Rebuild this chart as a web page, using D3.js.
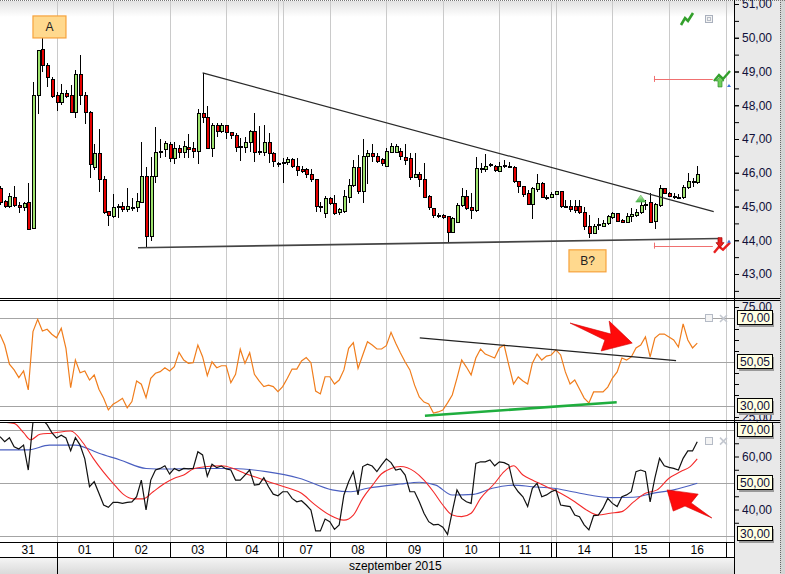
<!DOCTYPE html>
<html>
<head>
<meta charset="utf-8">
<script src="https://cdn.jsdelivr.net/npm/d3@7"></script>
<style>
  body { margin: 0; background: #fff; }
  svg { display: block; font-family: 'Liberation Sans', Arial, sans-serif; }
</style>
</head>
<body>
<div id="chart"></div>
<script>
// ---- data ----
const days = ['31', '01', '02', '03', '04', '07', '08', '09', '10', '11', '14', '15', '16'];
const dayStart = [0, 12, 24, 36, 48, 60, 70, 82, 94, 106, 118, 130, 142];
const dayEnd = [12, 24, 36, 48, 59, 70, 82, 94, 106, 117, 130, 142, 154];
const monthLabel = 'szeptember 2015';

const open = [45.52,45.16,44.99,45.28,45.04,44.96,45.13,44.36,48.30,49.64,
  49.19,48.75,48.30,48.07,48.36,48.30,47.80,48.90,48.30,47.80,
  46.17,46.58,45.81,44.84,44.69,44.96,44.99,44.90,44.96,44.96,
  45.13,45.90,44.10,45.90,46.61,46.70,46.85,46.41,46.73,46.61,
  46.76,46.73,46.64,47.77,47.65,46.73,47.41,47.21,47.41,47.18,
  47.09,46.76,46.76,46.91,47.21,46.61,46.61,46.91,46.56,46.26,
  46.29,46.29,46.38,46.20,46.11,46.11,45.96,45.79,44.99,44.78,
  45.25,45.10,44.81,44.84,45.28,45.61,46.17,45.43,46.47,46.56,
  46.47,46.38,46.20,46.61,46.61,46.64,46.44,46.41,45.87,45.96,
  45.81,45.31,44.93,44.72,44.72,44.69,44.24,44.54,45.02,45.31,
  44.96,44.87,46.11,46.11,46.23,46.20,46.05,46.20,46.20,46.17,
  45.73,45.58,45.40,45.07,45.49,45.67,45.28,45.28,45.37,45.43,
  44.99,44.99,44.99,44.99,44.81,44.42,44.21,44.45,44.42,44.51,
  44.66,44.78,44.60,44.54,44.69,44.72,44.81,45.04,45.13,44.57,
  45.04,45.52,45.40,45.31,45.28,45.28,45.55,45.73,45.70];
const high = [45.61,45.19,45.40,45.61,45.13,45.13,45.70,48.69,49.64,49.99,
  49.25,48.84,48.39,48.63,48.45,48.60,49.04,49.49,48.39,47.83,
  46.85,47.30,45.90,44.87,45.37,45.07,45.13,45.55,45.25,45.40,
  46.91,46.17,46.47,47.36,47.00,46.94,46.91,46.91,46.82,46.94,
  47.15,46.91,47.89,48.96,47.98,47.47,47.47,47.47,47.42,47.20,
  47.18,47.03,47.06,47.27,47.77,47.39,47.41,47.18,46.61,46.32,
  46.44,46.47,46.44,46.44,46.20,46.14,46.11,45.81,45.13,45.31,
  45.28,45.34,44.96,45.49,45.81,46.38,46.53,47.00,46.67,46.85,
  46.58,46.44,46.73,46.88,46.85,46.73,46.85,46.58,46.58,46.02,
  46.29,45.34,44.96,44.81,44.78,44.72,44.69,45.10,45.55,45.49,
  45.40,46.47,46.29,46.56,46.29,46.23,46.32,46.38,46.32,46.19,
  45.74,45.61,45.49,45.58,45.96,45.73,45.34,45.43,45.46,45.44,
  45.19,45.19,45.19,45.19,44.99,44.75,44.48,44.66,44.60,44.75,
  44.84,44.81,44.63,44.81,44.96,44.93,45.19,45.19,45.40,45.10,
  45.64,45.55,45.43,45.40,45.37,45.64,45.99,45.84,46.20];
const low = [45.04,44.96,44.96,44.99,44.81,44.87,44.30,44.33,47.74,48.98,
  48.54,48.21,47.83,48.01,48.21,47.77,47.62,48.01,47.44,45.84,
  46.08,45.43,44.78,44.42,44.66,44.66,44.84,44.84,44.87,44.84,
  45.10,43.80,43.98,45.70,46.44,46.47,46.32,46.26,46.44,46.44,
  46.44,46.44,46.26,47.47,46.70,46.47,47.06,47.18,47.00,47.00,
  46.61,46.35,46.58,46.61,46.32,46.53,46.50,46.29,46.17,46.17,
  45.70,46.23,46.14,45.90,45.99,45.84,45.73,44.84,44.84,44.66,
  45.04,44.75,44.75,44.81,45.10,45.58,45.37,45.10,45.67,46.32,
  46.29,46.20,46.17,46.58,46.58,46.38,46.23,45.79,45.84,45.58,
  45.25,44.90,44.66,44.66,44.63,43.95,44.21,44.51,44.99,44.90,
  44.63,44.84,45.99,46.02,46.17,46.02,46.02,46.14,46.14,45.70,
  45.40,45.28,45.04,44.63,45.43,45.25,45.19,45.25,45.34,44.96,
  44.96,44.84,44.81,44.78,44.30,44.07,44.18,44.30,44.39,44.45,
  44.63,44.54,44.51,44.51,44.54,44.69,44.78,44.90,44.51,44.33,
  44.99,45.37,45.28,45.22,45.25,45.22,45.52,45.58,45.67];
const close = [45.13,44.99,45.31,45.02,44.96,45.10,44.33,48.30,49.61,49.19,
  48.81,48.27,48.07,48.36,48.27,47.80,48.90,48.30,47.80,46.23,
  46.58,45.81,44.81,44.72,44.96,44.99,44.90,44.99,44.98,45.16,
  45.90,44.10,45.90,46.61,46.62,46.88,46.41,46.73,46.61,46.79,
  46.70,46.64,47.77,47.65,46.73,47.41,47.21,47.41,47.18,47.09,
  46.76,46.77,46.91,47.21,46.61,46.62,46.91,46.56,46.32,46.27,
  46.30,46.38,46.20,46.08,46.05,45.96,45.79,44.99,45.00,45.25,
  45.10,44.78,44.90,45.31,45.61,46.17,45.43,46.47,46.56,46.47,
  46.32,46.26,46.64,46.79,46.79,46.47,46.35,45.87,45.96,45.81,
  45.28,44.96,44.72,44.71,44.66,44.24,44.63,45.04,45.31,44.93,
  44.87,46.14,46.12,46.20,46.24,46.08,46.20,46.21,46.19,45.73,
  45.58,45.37,45.07,45.52,45.67,45.28,45.25,45.37,45.43,44.99,
  45.00,44.90,44.87,44.81,44.42,44.21,44.42,44.46,44.51,44.69,
  44.78,44.57,44.54,44.69,44.75,44.81,45.04,45.05,44.54,45.07,
  45.52,45.40,45.31,45.30,45.27,45.55,45.73,45.74,45.96];

const rsi = [62.6,57.7,49.0,46.4,42.9,45.9,37.3,63.8,69.4,64.1,
  64.9,62.6,61.0,65.3,56.2,38.3,50.9,45.1,45.9,41.8,
  44.1,37.6,33.5,28.2,30.8,32.0,33.5,29.2,32.0,41.4,
  39.9,33.8,42.6,44.9,45.6,47.4,45.9,47.9,54.4,50.9,
  49.4,49.7,57.7,52.4,43.8,50.1,47.4,48.3,48.3,40.6,
  44.4,55.8,49.4,54.2,44.4,41.4,38.8,39.5,38.8,36.5,
  38.8,42.6,46.8,46.8,50.5,52.0,49.7,36.8,35.5,43.3,
  43.3,40.0,41.8,46.4,56.2,58.8,47.1,53.2,59.2,57.7,
  55.9,55.9,57.4,63.5,58.5,54.1,50.0,46.4,39.5,34.1,
  31.8,30.9,26.8,27.3,28.2,31.4,35.0,42.7,50.9,47.7,
  44.1,51.8,55.9,53.6,52.7,51.8,56.4,57.7,48.6,40.0,
  43.2,41.4,40.0,49.5,53.6,50.9,52.7,53.2,55.5,53.2,
  45.5,40.0,41.8,37.7,33.6,31.4,36.4,36.4,36.4,38.6,
  42.7,45.5,51.8,50.9,52.3,56.4,57.7,61.4,52.3,60.9,
  62.7,62.7,61.4,60.0,56.8,67.3,60.0,56.4,58.6];

const stochK = [67.5,65.6,67.1,63.7,62.8,64.3,54.9,73.0,74.0,74.0,
  72.0,69.0,67.0,68.0,67.0,62.2,67.1,64.3,59.1,48.6,
  50.5,46.1,41.7,40.8,42.7,42.7,42.3,42.7,42.9,44.8,
  51.1,39.8,51.1,54.9,55.5,56.5,53.4,55.5,54.6,55.5,
  55.3,55.5,61.8,60.6,52.6,57.1,55.8,56.4,55.3,54.9,
  51.1,51.1,53.0,54.9,49.2,49.5,52.0,48.6,45.8,45.2,
  46.7,46.7,44.2,42.9,43.3,41.7,39.8,31.9,31.9,36.4,
  35.4,32.5,34.2,45.5,50.5,54.3,45.5,56.2,57.1,56.4,
  54.3,56.8,59.1,57.7,54.9,55.3,53.0,46.7,46.7,42.9,
  38.6,35.4,34.2,34.4,33.3,30.6,39.2,47.4,44.2,42.9,
  42.3,57.4,58.0,58.0,58.7,56.5,58.0,57.7,56.8,49.2,
  46.7,44.8,41.1,48.0,49.9,44.8,45.5,46.7,47.4,41.7,
  41.4,41.1,37.9,37.3,34.2,32.3,37.7,37.9,40.5,44.2,
  42.3,41.1,44.8,45.5,46.7,54.3,54.9,54.3,42.9,51.8,
  59.3,56.5,55.9,55.5,54.9,59.3,62.1,62.1,65.6];

// smooth lines, read at the points where they bend: [candle index, value]
const stochSignal = [[0,73],[3,72.5],[5,69],[6.5,66.3],[8.5,68.4],[11,68.8],[15,69.6],[17.7,65.0],
  [19.8,59.3],[21.9,54.3],[24,49.9],[26.2,45.7],[28.3,44.0],[30.4,44.0],[32.5,46.7],[35,49.9],
  [37,51.8],[39,53.0],[41,55.3],[44,56.2],[47,56.5],[49.5,55.5],[52,53.6],[55,51.8],[58,49.9],
  [61,48.2],[64,46.1],[66.5,42.3],[70,37.9],[73,36.0],[75,37.9],[77,44.2],[79,49.0],[81,53.5],
  [83,55.5],[85,56.2],[88,54.3],[90,51.1],[92,46.7],[94,41.7],[96,37.9],[98,37.3],[100,38.6],
  [102,44.2],[105,49.9],[107,54.3],[109,56.5],[111,53.0],[113,51.1],[116,48.6],[119,46.1],
  [122,42.9],[124.5,39.8],[127,37.9],[129.5,38.6],[132,39.2],[134.5,42.9],[137,46.1],
  [139.5,47.4],[142,51.8],[144.5,54.3],[146.5,56.2],[148,59.1]];
const stochSlow = [[0,62.5],[6,62.5],[10.5,64.3],[16,64.3],[21,61.2],[25.5,58.7],[31,55.5],
  [35.5,55.3],[41,55.5],[49.5,55.5],[56.5,54.3],[63.5,51.8],[70.5,47.4],[74.5,46.7],[78,48.0],
  [85,49.6],[89,50.3],[92.5,49.2],[96,45.5],[100.5,45.7],[104.5,48.0],[109,49.2],[113,48.6],
  [117.5,48.0],[121.5,46.7],[126,45.2],[130,44.5],[134.5,44.6],[138.5,46.1],[143,47.4],[148,49.9]];

// drawn trend lines: [[index, value], [index, value]]
const priceLines = [[[43, 48.96], [151.5, 44.85]], [[29.3, 43.78], [152.8, 44.05]]];
const rsiLines = [[[89.1, 61.0], [143.5, 50.6]]];
const rsiSupport = [[[90.2, 25.6], [130.9, 31.7]]];
const alertLevels = [48.78, 43.84];
const notes = [{ text: 'A', i: 10.5, v: 50.32 }, { text: 'B?', i: 124.7, v: 43.39 }];

const priceTicks = d3.range(43, 52);
const priceMinor = d3.range(42.5, 51, 0.5);
const rsiBoxes = [70, 50.05, 30];
const rsiPlain = [75, 25];
const rsiMinor = [65, 60, 55, 45, 40, 35];
const stoBoxes = [70, 50, 30];
const stoPlain = [60, 40];
const stoMinor = [65, 55, 45, 35];

// ---- layout ----
const width = 785, height = 574, plotW = 734;

const x = d3.scaleLinear().domain([0, 155.8]).range([0, plotW]);
const yMain = d3.scaleLinear().domain([43, 51]).range([274, 4]);
const yRsi = d3.scaleLinear().domain([30, 70]).range([406, 318]);
const ySto = d3.scaleLinear().domain([30, 70]).range([536, 430]);
const fmt = v => d3.format('.2f')(v).replace('.', ',');

const svg = d3.select('#chart').append('svg')
    .attr('width', width)
    .attr('height', height);

const defs = svg.append('defs');
[['clip-main', 1, 297], ['clip-rsi', 301, 119], ['clip-sto', 423, 119]].forEach(c => {
  defs.append('clipPath').attr('id', c[0])
    .append('rect').attr('x', 0).attr('y', c[1]).attr('width', plotW).attr('height', c[2]);
});
const topGrad = defs.append('linearGradient').attr('id', 'topfade').attr('x1', 0).attr('x2', 0).attr('y1', 0).attr('y2', 1);
topGrad.append('stop').attr('offset', 0).attr('stop-color', '#e2e2e2');
topGrad.append('stop').attr('offset', 1).attr('stop-color', '#ffffff');
const monthGrad = defs.append('linearGradient').attr('id', 'monthfade').attr('x1', 0).attr('x2', 0).attr('y1', 0).attr('y2', 1);
monthGrad.append('stop').attr('offset', 0).attr('stop-color', '#f6f6f6');
monthGrad.append('stop').attr('offset', 1).attr('stop-color', '#dadada');
const triGrad = defs.append('linearGradient').attr('id', 'trifill').attr('x1', 0).attr('x2', 0).attr('y1', 0).attr('y2', 1);
triGrad.append('stop').attr('offset', 0).attr('stop-color', '#c8f0b8');
triGrad.append('stop').attr('offset', 1).attr('stop-color', '#3fae3f');

svg.append('rect').attr('width', width).attr('height', height).attr('fill', '#fff');
svg.append('rect').attr('x', 0).attr('y', 1).attr('width', plotW).attr('height', 16).attr('fill', 'url(#topfade)');

// right axis panel
svg.append('rect').attr('x', plotW).attr('y', 0).attr('width', width - plotW).attr('height', height).attr('fill', '#e9e9e9');
svg.append('rect').attr('x', 780).attr('y', 0).attr('width', 5).attr('height', height).attr('fill', '#d4d4d4');
svg.append('line').attr('x1', 780.5).attr('x2', 780.5).attr('y1', 0).attr('y2', height)
    .attr('stroke', '#666').attr('stroke-dasharray', '1,1');

// vertical day grid
const gridIdx = Array.from(new Set(dayStart.concat(dayEnd))).filter(d => d > 0);
svg.append('g').attr('shape-rendering', 'crispEdges')
  .selectAll('line')
    .data(gridIdx)
  .enter().append('line')
    .attr('x1', d => Math.round(x(d)) + 0.5)
    .attr('x2', d => Math.round(x(d)) + 0.5)
    .attr('y1', 1).attr('y2', 542)
    .attr('stroke', '#cacaca');

// horizontal grid of the two lower panels
const hGrid = svg.append('g').attr('shape-rendering', 'crispEdges');
hGrid.selectAll('.gr').data(rsiBoxes).enter().append('line')
    .attr('x1', 0).attr('x2', plotW)
    .attr('y1', d => Math.round(yRsi(d)) + 0.5).attr('y2', d => Math.round(yRsi(d)) + 0.5)
    .attr('stroke', '#a4a4a4');
hGrid.selectAll('.gs').data(stoBoxes).enter().append('line')
    .attr('x1', 0).attr('x2', plotW)
    .attr('y1', d => Math.round(ySto(d)) + 0.5).attr('y2', d => Math.round(ySto(d)) + 0.5)
    .attr('stroke', '#a4a4a4');

// ---- price panel ----
const candles = open.map((o, i) => ({ i, o, h: high[i], l: low[i], c: close[i] }));
const main = svg.append('g').attr('clip-path', 'url(#clip-main)');

main.append('g').attr('shape-rendering', 'crispEdges')
  .selectAll('line')
    .data(candles)
  .enter().append('line')
    .attr('x1', d => Math.round(x(d.i)) + 0.5)
    .attr('x2', d => Math.round(x(d.i)) + 0.5)
    .attr('y1', d => yMain(d.h))
    .attr('y2', d => yMain(d.l))
    .attr('stroke', '#000');

main.append('g').attr('shape-rendering', 'crispEdges')
  .selectAll('rect')
    .data(candles)
  .enter().append('rect')
    .attr('x', d => Math.round(x(d.i)) - 1)
    .attr('width', 3)
    .attr('y', d => yMain(Math.max(d.o, d.c)))
    .attr('height', d => Math.max(1, Math.abs(yMain(d.o) - yMain(d.c))))
    .attr('fill', d => d.c >= d.o ? '#9ee36e' : '#e60000')
    .attr('stroke', '#000')
    .attr('stroke-width', 1);

main.selectAll('.trend')
    .data(priceLines)
  .enter().append('line')
    .attr('x1', d => x(d[0][0])).attr('y1', d => yMain(d[0][1]))
    .attr('x2', d => x(d[1][0])).attr('y2', d => yMain(d[1][1]))
    .attr('stroke', (d, k) => k === 0 ? '#2a2a2a' : '#444')
    .attr('stroke-width', (d, k) => k === 0 ? 1.2 : 1.6);

// alert levels on the right
const alerts = main.selectAll('.alert').data(alertLevels).enter().append('g');
alerts.append('line')
    .attr('x1', x(138.8)).attr('x2', x(151.3))
    .attr('y1', d => Math.round(yMain(d)) + 0.5).attr('y2', d => Math.round(yMain(d)) + 0.5)
    .attr('stroke', '#f07070');
alerts.append('line')
    .attr('x1', Math.round(x(138.8)) + 0.5).attr('x2', Math.round(x(138.8)) + 0.5)
    .attr('y1', d => yMain(d) - 3).attr('y2', d => yMain(d) + 3)
    .attr('stroke', '#f07070');

// breakout marker over candle 136
main.append('path')
    .attr('d', () => {
      const cx = x(136), cy = yMain(high[136]) - 1;
      return `M${cx - 5},${cy + 3} L${cx},${cy - 4} L${cx + 5},${cy + 3} Z`;
    })
    .attr('fill', 'url(#trifill)')
    .attr('stroke', '#5bb85b')
    .attr('stroke-width', 0.6);

// labelled boxes A and B?
const noteG = main.selectAll('.note').data(notes).enter().append('g');
noteG.append('rect')
    .attr('x', d => x(d.i) - 16.5 - (d.text.length - 1) * 2)
    .attr('y', d => yMain(d.v) - 11)
    .attr('width', d => 33 + (d.text.length - 1) * 4)
    .attr('height', 22)
    .attr('fill', '#ffd98e')
    .attr('stroke', '#f6a23c')
    .attr('stroke-width', 1.2);
noteG.append('text')
    .attr('x', d => x(d.i))
    .attr('y', d => yMain(d.v))
    .attr('dy', '0.36em')
    .attr('text-anchor', 'middle')
    .style('font-size', '12px')
    .style('fill', '#222')
    .text(d => d.text);

// icons near the price axis
const ico = svg.append('g');
ico.append('polyline')
    .attr('points', '681,25 685,18 688,21 693,13')
    .attr('fill', 'none').attr('stroke', '#33a02c').attr('stroke-width', 2.6);
ico.append('rect').attr('x', 705.5).attr('y', 15.5).attr('width', 7).attr('height', 7)
    .attr('fill', '#f2f2f2').attr('stroke', '#a9b0bd');
ico.append('rect').attr('x', 707.5).attr('y', 17.5).attr('width', 3).attr('height', 3)
    .attr('fill', 'none').attr('stroke', '#b8bec8');
const upY = yMain(alertLevels[0]), dnY = yMain(alertLevels[1]);
ico.append('polyline')
    .attr('points', `714,${upY + 2} 719,${upY - 4} 723,${upY} 730,${upY - 8}`)
    .attr('fill', 'none').attr('stroke', '#33a02c').attr('stroke-width', 2.4);
ico.append('path')
    .attr('d', `M716,${upY + 2} L720,${upY - 2} L724,${upY + 2} L722,${upY + 2} L722,${upY + 8} L718,${upY + 8} L718,${upY + 2} Z`)
    .attr('fill', '#6fcf5a').attr('stroke', '#2e8b2e').attr('stroke-width', 0.7);
ico.append('path').attr('d', `M727,${upY + 8} L729,${upY + 5} L731,${upY + 8} Z`).attr('fill', '#3a6fd8');
ico.append('polyline')
    .attr('points', `714,${dnY + 7} 719,${dnY + 1} 723,${dnY + 4} 730,${dnY - 3}`)
    .attr('fill', 'none').attr('stroke', '#e82020').attr('stroke-width', 2.4);
ico.append('path')
    .attr('d', `M718,${dnY - 8} L722,${dnY - 8} L722,${dnY - 3} L724,${dnY - 3} L720,${dnY + 2} L716,${dnY - 3} L718,${dnY - 3} Z`)
    .attr('fill', '#e82020').attr('stroke', '#a00000').attr('stroke-width', 0.7);
ico.append('path').attr('d', `M727,${dnY - 3} L729,${dnY - 6} L731,${dnY - 3} Z`).attr('fill', '#3a6fd8');

// ---- RSI panel ----
const rsiG = svg.append('g').attr('clip-path', 'url(#clip-rsi)');
rsiG.append('path')
    .datum(rsi)
    .attr('fill', 'none')
    .attr('stroke', '#f07d1c')
    .attr('stroke-width', 1.2)
    .attr('d', d3.line().x((d, i) => x(i)).y(d => yRsi(d)));
rsiG.selectAll('.rl').data(rsiLines).enter().append('line')
    .attr('x1', d => x(d[0][0])).attr('y1', d => yRsi(d[0][1]))
    .attr('x2', d => x(d[1][0])).attr('y2', d => yRsi(d[1][1]))
    .attr('stroke', '#222').attr('stroke-width', 1.2);
rsiG.selectAll('.rs').data(rsiSupport).enter().append('line')
    .attr('x1', d => x(d[0][0])).attr('y1', d => yRsi(d[0][1]))
    .attr('x2', d => x(d[1][0])).attr('y2', d => yRsi(d[1][1]))
    .attr('stroke', '#1fae3e').attr('stroke-width', 2.6);

// ---- stochastic panel ----
const stoG = svg.append('g').attr('clip-path', 'url(#clip-sto)');
stoG.append('path')
    .datum(stochSlow)
    .attr('fill', 'none').attr('stroke', '#4a5fc0').attr('stroke-width', 1.1)
    .attr('d', d3.line().curve(d3.curveMonotoneX).x(d => x(d[0])).y(d => ySto(d[1])));
stoG.append('path')
    .datum(stochSignal)
    .attr('fill', 'none').attr('stroke', '#f42a2a').attr('stroke-width', 1.1)
    .attr('d', d3.line().curve(d3.curveMonotoneX).x(d => x(d[0])).y(d => ySto(d[1])));
stoG.append('path')
    .datum(stochK)
    .attr('fill', 'none').attr('stroke', '#111').attr('stroke-width', 1.2)
    .attr('d', d3.line().x((d, i) => x(i)).y(d => ySto(d)));

// red arrows
const rsiArrow = [[121.0, 67.7], [129.7, 62.7], [129.3, 68.6], [134.2, 58.6], [127.6, 55.0], [128.4, 60.0]];
const stoArrow = [[141.6, 47.4], [148.2, 45.8], [146.7, 42.5], [151.1, 36.8], [145.4, 41.3], [142.9, 39.4]];
svg.append('polygon')
    .attr('points', rsiArrow.map(p => [x(p[0]), yRsi(p[1])].join(',')).join(' '))
    .attr('fill', '#ff0a0a').attr('stroke', '#d40000').attr('stroke-width', 0.6);
svg.append('polygon')
    .attr('points', stoArrow.map(p => [x(p[0]), ySto(p[1])].join(',')).join(' '))
    .attr('fill', '#ff0a0a').attr('stroke', '#d40000').attr('stroke-width', 0.6);

// panel icons (restore / close)
[yRsi(70), ySto(66)].forEach(cy => {
  svg.append('rect').attr('x', 705.5).attr('y', Math.round(cy) - 3.5).attr('width', 7).attr('height', 7)
      .attr('fill', '#f4f4f4').attr('stroke', '#b5bbc6');
  svg.append('path')
      .attr('d', `M720,${cy - 3} L727,${cy + 4} M727,${cy - 3} L720,${cy + 4}`)
      .attr('stroke', '#c4c8d0').attr('stroke-width', 1.6);
});

// panel separators
const sep = svg.append('g').attr('shape-rendering', 'crispEdges');
[298.5, 300.5, 420.5, 422.5].forEach(y => {
  sep.append('line').attr('x1', 0).attr('x2', 780).attr('y1', y).attr('y2', y).attr('stroke', '#000');
});
svg.append('line').attr('x1', 0).attr('x2', width).attr('y1', 0.5).attr('y2', 0.5)
    .attr('stroke', '#777').attr('stroke-dasharray', '1,1');

// ---- date axis ----
const dateG = svg.append('g').attr('shape-rendering', 'crispEdges');
dateG.append('rect').attr('x', 0).attr('y', 542).attr('width', plotW).attr('height', 15).attr('fill', '#fff');
dateG.append('rect').attr('x', 0).attr('y', 557).attr('width', plotW).attr('height', 17).attr('fill', 'url(#monthfade)');
[542.5, 557.5].forEach(y => {
  dateG.append('line').attr('x1', 0).attr('x2', plotW).attr('y1', y).attr('y2', y).attr('stroke', '#000');
});
dateG.selectAll('.ds').data(gridIdx).enter().append('line')
    .attr('x1', d => Math.round(x(d)) + 0.5).attr('x2', d => Math.round(x(d)) + 0.5)
    .attr('y1', 542).attr('y2', 557)
    .attr('stroke', '#000');
dateG.append('line')
    .attr('x1', Math.round(x(dayStart[1])) + 0.5).attr('x2', Math.round(x(dayStart[1])) + 0.5)
    .attr('y1', 557).attr('y2', 574).attr('stroke', '#000');

svg.append('g').selectAll('text')
    .data(days)
  .enter().append('text')
    .attr('x', (d, k) => x((dayStart[k] + dayEnd[k]) / 2))
    .attr('y', 550)
    .attr('dy', '0.36em')
    .attr('text-anchor', 'middle')
    .style('font-size', '12px')
    .style('fill', '#000')
    .text(d => d);
svg.append('text')
    .attr('x', (x(dayStart[1]) + plotW) / 2)
    .attr('y', 566)
    .attr('dy', '0.36em')
    .attr('text-anchor', 'middle')
    .style('font-size', '12px')
    .style('fill', '#000')
    .text(monthLabel);

svg.append('line').attr('x1', plotW + 0.5).attr('x2', plotW + 0.5).attr('y1', 0).attr('y2', height)
    .attr('stroke', '#000').attr('shape-rendering', 'crispEdges');

// ---- right axes ----
const axisText = g => g.call(s => s.select('.domain').remove())
    .call(s => s.selectAll('.tick line').attr('stroke', '#000'))
    .call(s => s.selectAll('.tick text')
      .attr('fill', '#10103a')
      .style('font-size', '12px')
      .style('font-family', "'Liberation Sans', Arial, sans-serif"));

svg.append('g').attr('transform', `translate(${plotW + 1},0)`)
    .call(d3.axisRight(yMain).tickValues(priceMinor).tickSize(4).tickFormat(''))
    .call(axisText);
svg.append('g').attr('transform', `translate(${plotW + 1},0)`)
    .call(d3.axisRight(yMain).tickValues(priceTicks).tickSize(4).tickPadding(3).tickFormat(fmt))
    .call(axisText);

const subAxis = (scale, minor, plain) => {
  svg.append('g').attr('transform', `translate(${plotW + 1},0)`)
      .call(d3.axisRight(scale).tickValues(minor).tickSize(4).tickFormat(''))
      .call(axisText);
  svg.append('g').attr('transform', `translate(${plotW + 1},0)`)
      .call(d3.axisRight(scale).tickValues(plain).tickSize(4).tickPadding(3).tickFormat(fmt))
      .call(axisText);
};
subAxis(yRsi, rsiMinor, rsiPlain);
subAxis(ySto, stoMinor, stoPlain);

const valueBoxes = (scale, vals, maxY) => {
  const g = svg.append('g').selectAll('g').data(vals).enter().append('g')
      .attr('transform', d => `translate(737,${Math.min(Math.round(scale(d)), maxY)})`);
  g.append('rect').attr('x', 2).attr('y', -5).attr('width', 35).attr('height', 14).attr('fill', '#9a9a9a');
  g.append('rect').attr('x', 0.5).attr('y', -7.5).attr('width', 35).attr('height', 14)
      .attr('fill', '#ffffe2').attr('stroke', '#000');
  g.append('text').attr('x', 3).attr('y', 0).attr('dy', '0.36em')
      .style('font-size', '12px').style('fill', '#10103a')
      .text(d => fmt(d));
};
valueBoxes(yRsi, rsiBoxes, 412);
valueBoxes(ySto, stoBoxes, 534);
</script>
</body>
</html>
